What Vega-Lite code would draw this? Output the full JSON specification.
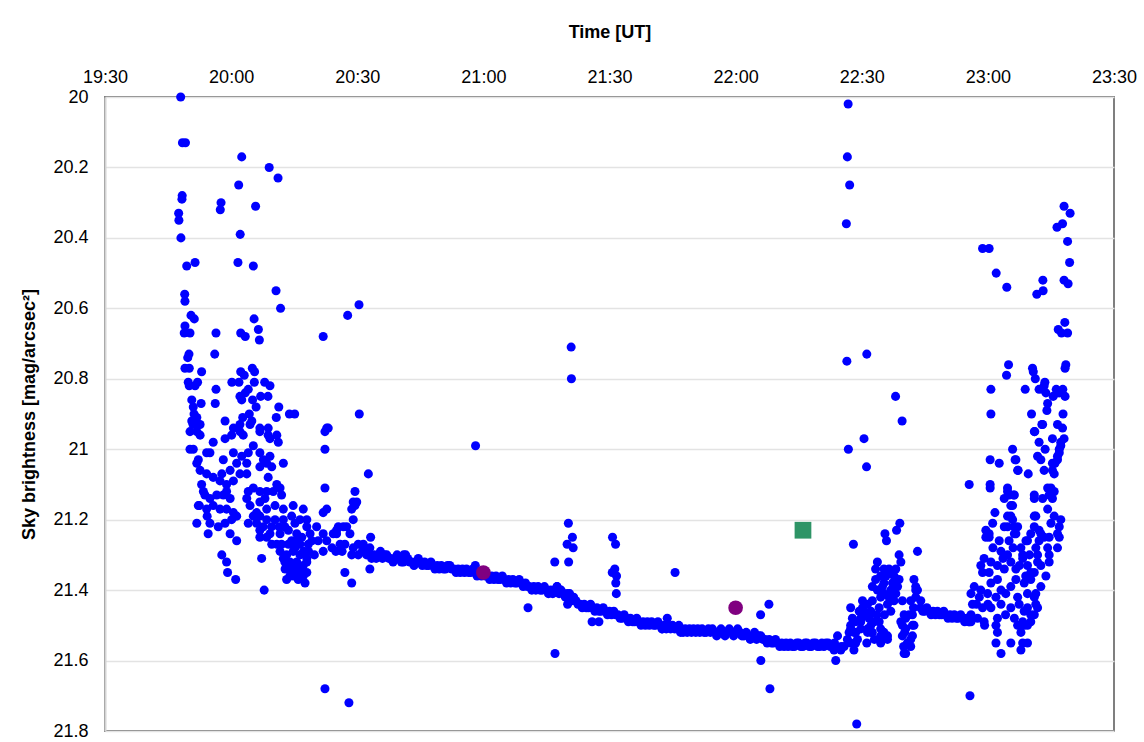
{
"$schema": "https://vega.github.io/schema/vega-lite/v6.json",
"width": 1009, "height": 634,
"autosize": {"type": "none"},
"padding": {"left": 105, "top": 97, "right": 30, "bottom": 11},
"background": "white",
"config": {"font": "Liberation Sans", "view": {"stroke": "#7f7f7f", "strokeWidth": 2}},
"datasets": {
"sky": [
{"ut":19.800,"mag":20.00},{"ut":19.807,"mag":20.13},{"ut":19.819,"mag":20.13},{"ut":20.042,"mag":20.17},{"ut":20.151,"mag":20.20},{"ut":20.186,"mag":20.23},{"ut":20.030,"mag":20.25},{"ut":19.806,"mag":20.28},{"ut":19.805,"mag":20.29},{"ut":19.960,"mag":20.30},{"ut":19.957,"mag":20.32},{"ut":20.097,"mag":20.31},{"ut":19.792,"mag":20.33},{"ut":19.793,"mag":20.35},{"ut":20.036,"mag":20.39},{"ut":19.801,"mag":20.40},{"ut":19.857,"mag":20.47},{"ut":19.824,"mag":20.48},{"ut":20.027,"mag":20.47},{"ut":20.088,"mag":20.48},{"ut":20.178,"mag":20.55},{"ut":19.816,"mag":20.56},{"ut":19.817,"mag":20.58},{"ut":20.196,"mag":20.60},{"ut":20.507,"mag":20.59},{"ut":20.462,"mag":20.62},{"ut":20.365,"mag":20.68},{"ut":19.841,"mag":20.62},{"ut":19.854,"mag":20.63},{"ut":20.091,"mag":20.63},{"ut":20.108,"mag":20.66},{"ut":20.112,"mag":20.69},{"ut":19.817,"mag":20.65},{"ut":19.814,"mag":20.67},{"ut":19.837,"mag":20.67},{"ut":19.940,"mag":20.67},{"ut":20.038,"mag":20.67},{"ut":20.056,"mag":20.68},{"ut":19.833,"mag":20.73},{"ut":19.828,"mag":20.74},{"ut":19.935,"mag":20.73},{"ut":19.817,"mag":20.77},{"ut":19.834,"mag":20.77},{"ut":19.883,"mag":20.78},{"ut":20.038,"mag":20.78},{"ut":20.052,"mag":20.79},{"ut":20.084,"mag":20.77},{"ut":20.093,"mag":20.78},
{"ut":19.830,"mag":20.81},{"ut":19.834,"mag":20.82},{"ut":19.867,"mag":20.81},{"ut":19.857,"mag":20.82},{"ut":19.940,"mag":20.83},{"ut":20.003,"mag":20.81},{"ut":20.031,"mag":20.81},{"ut":20.092,"mag":20.81},{"ut":20.068,"mag":20.83},{"ut":20.056,"mag":20.84},{"ut":20.133,"mag":20.81},{"ut":20.154,"mag":20.82},{"ut":20.035,"mag":20.85},{"ut":20.042,"mag":20.86},{"ut":20.085,"mag":20.86},{"ut":20.099,"mag":20.88},{"ut":20.117,"mag":20.85},{"ut":20.146,"mag":20.85},{"ut":19.844,"mag":20.86},{"ut":19.881,"mag":20.87},{"ut":19.850,"mag":20.88},{"ut":19.937,"mag":20.87},{"ut":20.189,"mag":20.88},{"ut":20.179,"mag":20.91},{"ut":20.231,"mag":20.90},{"ut":20.252,"mag":20.90},{"ut":19.853,"mag":20.90},{"ut":19.864,"mag":20.91},{"ut":19.849,"mag":20.93},{"ut":19.877,"mag":20.93},{"ut":19.976,"mag":20.92},{"ut":20.046,"mag":20.91},{"ut":20.072,"mag":20.90},{"ut":20.082,"mag":20.92},{"ut":20.035,"mag":20.93},{"ut":20.009,"mag":20.94},{"ut":20.385,"mag":20.94},{"ut":20.114,"mag":20.94},{"ut":20.147,"mag":20.94},
{"ut":19.844,"mag":20.92},{"ut":19.870,"mag":20.93},{"ut":19.864,"mag":20.95},{"ut":19.837,"mag":20.95},{"ut":19.877,"mag":20.96},{"ut":20.075,"mag":20.93},{"ut":20.035,"mag":20.95},{"ut":20.002,"mag":20.96},{"ut":19.976,"mag":20.97},{"ut":20.048,"mag":20.96},{"ut":20.114,"mag":20.95},{"ut":20.147,"mag":20.96},{"ut":20.187,"mag":20.98},{"ut":20.154,"mag":20.97},{"ut":20.181,"mag":20.96},{"ut":20.379,"mag":20.94},{"ut":20.372,"mag":20.95},{"ut":20.372,"mag":21.00},{"ut":19.837,"mag":21.00},{"ut":19.850,"mag":21.00},{"ut":19.929,"mag":20.98},{"ut":19.916,"mag":21.01},{"ut":19.903,"mag":21.01},{"ut":19.870,"mag":21.03},{"ut":19.864,"mag":21.04},{"ut":19.877,"mag":21.06},{"ut":19.969,"mag":21.03},{"ut":20.009,"mag":21.01},{"ut":20.042,"mag":21.02},{"ut":20.068,"mag":21.01},{"ut":20.062,"mag":21.04},{"ut":20.022,"mag":21.04},{"ut":19.996,"mag":21.06},{"ut":19.963,"mag":21.07},{"ut":20.088,"mag":20.99},{"ut":20.114,"mag":21.01},{"ut":20.128,"mag":21.03},{"ut":20.154,"mag":21.02},{"ut":20.141,"mag":21.04},{"ut":20.114,"mag":21.05},{"ut":20.161,"mag":21.05},{"ut":20.207,"mag":21.04},{"ut":19.903,"mag":21.07},{"ut":19.929,"mag":21.08},{"ut":19.956,"mag":21.09},{"ut":19.982,"mag":21.10},{"ut":20.009,"mag":21.09},{"ut":20.035,"mag":21.07},{"ut":20.062,"mag":21.07},{"ut":19.883,"mag":21.10},{"ut":19.890,"mag":21.12},{"ut":19.896,"mag":21.13},{"ut":19.916,"mag":21.14},{"ut":19.943,"mag":21.13},{"ut":19.969,"mag":21.13},{"ut":19.982,"mag":21.12},{"ut":19.996,"mag":21.14},{"ut":20.147,"mag":21.08},{"ut":20.181,"mag":21.10},{"ut":20.194,"mag":21.11},{"ut":20.167,"mag":21.12},{"ut":20.141,"mag":21.12},{"ut":20.114,"mag":21.12},{"ut":20.088,"mag":21.11},{"ut":20.068,"mag":21.12},{"ut":20.062,"mag":21.14},{"ut":20.075,"mag":21.16},{"ut":20.114,"mag":21.15},{"ut":20.134,"mag":21.14},{"ut":20.200,"mag":21.13},{"ut":19.870,"mag":21.16},{"ut":19.903,"mag":21.17},{"ut":19.929,"mag":21.16},{"ut":19.956,"mag":21.17},{"ut":19.982,"mag":21.17},{"ut":20.009,"mag":21.18},{"ut":20.022,"mag":21.19},{"ut":19.905,"mag":21.19},{"ut":19.916,"mag":21.21},{"ut":19.864,"mag":21.21},{"ut":19.909,"mag":21.24},{"ut":19.949,"mag":21.22},{"ut":19.976,"mag":21.21},{"ut":20.002,"mag":21.20},{"ut":20.068,"mag":21.21},{"ut":19.996,"mag":21.24},{"ut":20.022,"mag":21.26},{"ut":19.963,"mag":21.30},{"ut":19.982,"mag":21.32},{"ut":19.986,"mag":21.35},{"ut":20.018,"mag":21.37},{"ut":20.131,"mag":21.40},{"ut":20.121,"mag":21.31},
{"ut":20.101,"mag":21.18},{"ut":20.114,"mag":21.19},{"ut":20.141,"mag":21.17},{"ut":20.174,"mag":21.16},{"ut":20.207,"mag":21.17},{"ut":20.246,"mag":21.16},{"ut":20.286,"mag":21.17},{"ut":20.300,"mag":21.20},{"ut":20.273,"mag":21.20},{"ut":20.240,"mag":21.19},{"ut":20.207,"mag":21.20},{"ut":20.174,"mag":21.20},{"ut":20.141,"mag":21.20},{"ut":20.101,"mag":21.21},{"ut":20.114,"mag":21.23},{"ut":20.154,"mag":21.24},{"ut":20.194,"mag":21.24},{"ut":20.227,"mag":21.23},{"ut":20.260,"mag":21.24},{"ut":20.300,"mag":21.22},{"ut":20.313,"mag":21.24},{"ut":20.306,"mag":21.27},{"ut":20.273,"mag":21.27},{"ut":20.240,"mag":21.26},{"ut":20.200,"mag":21.27},{"ut":20.161,"mag":21.27},{"ut":20.141,"mag":21.25},{"ut":20.114,"mag":21.25},{"ut":20.194,"mag":21.29},{"ut":20.220,"mag":21.30},{"ut":20.246,"mag":21.29},{"ut":20.273,"mag":21.30},{"ut":20.300,"mag":21.31},{"ut":20.207,"mag":21.31},{"ut":20.233,"mag":21.32},{"ut":20.260,"mag":21.32},{"ut":20.286,"mag":21.33},{"ut":20.214,"mag":21.34},{"ut":20.240,"mag":21.35},{"ut":20.266,"mag":21.35},{"ut":20.220,"mag":21.37},{"ut":20.246,"mag":21.36},{"ut":20.293,"mag":21.38},{"ut":20.286,"mag":21.36},{"ut":20.181,"mag":21.27},{"ut":20.260,"mag":21.26},{"ut":20.300,"mag":21.32},
{"ut":20.213,"mag":21.22},{"ut":20.253,"mag":21.21},{"ut":20.280,"mag":21.25},{"ut":20.227,"mag":21.27},{"ut":20.253,"mag":21.28},{"ut":20.287,"mag":21.29},{"ut":20.213,"mag":21.32},{"ut":20.227,"mag":21.34},{"ut":20.253,"mag":21.33},{"ut":20.273,"mag":21.34},{"ut":20.266,"mag":21.37},{"ut":20.233,"mag":21.36},{"ut":20.300,"mag":21.35},{"ut":20.307,"mag":21.29},{"ut":20.320,"mag":21.26},{"ut":20.190,"mag":21.22},{"ut":20.127,"mag":21.22},{"ut":20.160,"mag":21.22},{"ut":20.088,"mag":21.19},{"ut":20.330,"mag":21.30},{"ut":20.345,"mag":21.26},{"ut":20.400,"mag":21.28},{"ut":20.415,"mag":21.29},{"ut":20.440,"mag":21.29},{"ut":20.520,"mag":21.29},{"ut":20.540,"mag":21.29},
{"ut":20.339,"mag":21.22},{"ut":20.365,"mag":21.24},{"ut":20.379,"mag":21.26},{"ut":20.405,"mag":21.24},{"ut":20.418,"mag":21.23},{"ut":20.445,"mag":21.22},{"ut":20.471,"mag":21.24},{"ut":20.451,"mag":21.27},{"ut":20.484,"mag":21.28},{"ut":20.478,"mag":21.30},{"ut":20.365,"mag":21.29},{"ut":20.432,"mag":21.27},{"ut":20.372,"mag":21.11},{"ut":20.379,"mag":21.17},{"ut":20.365,"mag":21.18},{"ut":20.491,"mag":21.12},{"ut":20.484,"mag":21.15},{"ut":20.478,"mag":21.17},{"ut":20.484,"mag":21.20},{"ut":20.451,"mag":21.35},{"ut":20.478,"mag":21.38},{"ut":20.504,"mag":21.27},{"ut":20.504,"mag":21.30},
{"ut":20.508,"mag":20.90},{"ut":20.544,"mag":21.07},{"ut":20.498,"mag":21.15},{"ut":20.491,"mag":21.16},{"ut":20.425,"mag":21.22},{"ut":20.458,"mag":21.22},{"ut":20.418,"mag":21.24},{"ut":20.553,"mag":21.25},{"ut":20.550,"mag":21.28},{"ut":20.524,"mag":21.27},{"ut":20.537,"mag":21.30},{"ut":20.557,"mag":21.31},{"ut":20.550,"mag":21.34},{"ut":20.372,"mag":21.68},{"ut":20.467,"mag":21.72},{"ut":19.874,"mag":21.16},
{"ut":20.567,"mag":21.30},{"ut":20.575,"mag":21.31},{"ut":20.583,"mag":21.30},{"ut":20.592,"mag":21.29},{"ut":20.600,"mag":21.31},{"ut":20.608,"mag":21.30},{"ut":20.617,"mag":21.30},{"ut":20.625,"mag":21.31},{"ut":20.633,"mag":21.31},{"ut":20.642,"mag":21.32},{"ut":20.650,"mag":21.31},{"ut":20.658,"mag":21.30},{"ut":20.667,"mag":21.31},{"ut":20.675,"mag":21.32},{"ut":20.683,"mag":21.32},{"ut":20.692,"mag":21.30},{"ut":20.700,"mag":21.31},{"ut":20.708,"mag":21.32},{"ut":20.717,"mag":21.32},{"ut":20.725,"mag":21.33},{"ut":20.733,"mag":21.32},{"ut":20.742,"mag":21.31},{"ut":20.750,"mag":21.32},{"ut":20.758,"mag":21.33},{"ut":20.767,"mag":21.32},{"ut":20.775,"mag":21.33},{"ut":20.783,"mag":21.33},{"ut":20.792,"mag":21.32},{"ut":20.800,"mag":21.33},{"ut":20.808,"mag":21.34},{"ut":20.817,"mag":21.33},{"ut":20.825,"mag":21.34},{"ut":20.833,"mag":21.33},{"ut":20.842,"mag":21.34},{"ut":20.850,"mag":21.34},{"ut":20.858,"mag":21.33},{"ut":20.867,"mag":21.33},{"ut":20.875,"mag":21.34},{"ut":20.883,"mag":21.34},{"ut":20.892,"mag":21.35},{"ut":20.900,"mag":21.34},{"ut":20.908,"mag":21.35},{"ut":20.917,"mag":21.34},{"ut":20.925,"mag":21.35},{"ut":20.933,"mag":21.34},{"ut":20.942,"mag":21.35},{"ut":20.950,"mag":21.35},{"ut":20.958,"mag":21.34},{"ut":20.967,"mag":21.35},{"ut":20.975,"mag":21.36},{"ut":20.983,"mag":21.35},{"ut":20.992,"mag":21.36},{"ut":21.000,"mag":21.35},{"ut":21.008,"mag":21.36},{"ut":21.017,"mag":21.36},{"ut":21.025,"mag":21.37},{"ut":21.033,"mag":21.36},{"ut":21.042,"mag":21.37},{"ut":21.050,"mag":21.36},{"ut":21.058,"mag":21.37},{"ut":21.067,"mag":21.37},{"ut":21.075,"mag":21.36},{"ut":21.083,"mag":21.37},{"ut":21.092,"mag":21.38},{"ut":21.100,"mag":21.37},{"ut":21.108,"mag":21.38},{"ut":21.117,"mag":21.37},{"ut":21.125,"mag":21.38},{"ut":21.133,"mag":21.38},{"ut":21.142,"mag":21.37},{"ut":21.150,"mag":21.38},{"ut":21.158,"mag":21.39},{"ut":21.167,"mag":21.38},{"ut":21.175,"mag":21.39},{"ut":21.183,"mag":21.39},{"ut":21.192,"mag":21.40},{"ut":21.200,"mag":21.39},{"ut":21.208,"mag":21.40},{"ut":21.217,"mag":21.39},{"ut":21.225,"mag":21.40},{"ut":21.233,"mag":21.40},{"ut":21.242,"mag":21.39},{"ut":21.250,"mag":21.40},{"ut":21.258,"mag":21.41},{"ut":21.267,"mag":21.40},{"ut":21.275,"mag":21.41},{"ut":21.283,"mag":21.40},{"ut":21.292,"mag":21.39},{"ut":21.300,"mag":21.41},{"ut":21.308,"mag":21.40},{"ut":21.317,"mag":21.41},{"ut":21.325,"mag":21.42},{"ut":21.333,"mag":21.42},{"ut":21.342,"mag":21.41},{"ut":21.350,"mag":21.43},{"ut":21.358,"mag":21.42},{"ut":21.367,"mag":21.43},{"ut":21.375,"mag":21.44},{"ut":21.383,"mag":21.44},{"ut":21.392,"mag":21.45},{"ut":21.400,"mag":21.44},{"ut":21.408,"mag":21.45},{"ut":21.417,"mag":21.45},{"ut":21.425,"mag":21.44},{"ut":21.433,"mag":21.45},{"ut":21.442,"mag":21.46},{"ut":21.450,"mag":21.45},{"ut":21.458,"mag":21.46},{"ut":21.467,"mag":21.46},{"ut":21.475,"mag":21.45},{"ut":21.483,"mag":21.46},{"ut":21.492,"mag":21.47},{"ut":21.500,"mag":21.46},{"ut":21.508,"mag":21.47},{"ut":21.517,"mag":21.46},{"ut":21.525,"mag":21.47},{"ut":21.533,"mag":21.47},{"ut":21.542,"mag":21.48},{"ut":21.550,"mag":21.48},{"ut":21.558,"mag":21.47},{"ut":21.567,"mag":21.48},{"ut":21.575,"mag":21.49},{"ut":21.583,"mag":21.48},{"ut":21.592,"mag":21.49},{"ut":21.600,"mag":21.49},{"ut":21.608,"mag":21.48},{"ut":21.617,"mag":21.49},{"ut":21.625,"mag":21.50},{"ut":21.633,"mag":21.49},{"ut":21.642,"mag":21.50},{"ut":21.650,"mag":21.49},{"ut":21.658,"mag":21.50},{"ut":21.667,"mag":21.49},{"ut":21.675,"mag":21.50},{"ut":21.683,"mag":21.50},{"ut":21.692,"mag":21.49},{"ut":21.700,"mag":21.50},{"ut":21.708,"mag":21.51},{"ut":21.717,"mag":21.50},{"ut":21.725,"mag":21.51},{"ut":21.733,"mag":21.50},{"ut":21.742,"mag":21.51},{"ut":21.750,"mag":21.50},{"ut":21.758,"mag":21.51},{"ut":21.767,"mag":21.51},{"ut":21.775,"mag":21.50},{"ut":21.783,"mag":21.51},{"ut":21.792,"mag":21.52},{"ut":21.800,"mag":21.51},{"ut":21.808,"mag":21.52},{"ut":21.817,"mag":21.51},{"ut":21.825,"mag":21.52},{"ut":21.833,"mag":21.51},{"ut":21.842,"mag":21.52},{"ut":21.850,"mag":21.51},{"ut":21.858,"mag":21.52},{"ut":21.867,"mag":21.51},{"ut":21.875,"mag":21.52},{"ut":21.883,"mag":21.52},{"ut":21.892,"mag":21.51},{"ut":21.900,"mag":21.52},{"ut":21.908,"mag":21.51},{"ut":21.917,"mag":21.52},{"ut":21.925,"mag":21.53},{"ut":21.933,"mag":21.52},{"ut":21.942,"mag":21.51},{"ut":21.950,"mag":21.52},{"ut":21.958,"mag":21.53},{"ut":21.967,"mag":21.52},{"ut":21.975,"mag":21.51},{"ut":21.983,"mag":21.52},{"ut":21.992,"mag":21.53},{"ut":22.000,"mag":21.52},{"ut":22.008,"mag":21.51},{"ut":22.017,"mag":21.52},{"ut":22.025,"mag":21.53},{"ut":22.033,"mag":21.53},{"ut":22.042,"mag":21.52},{"ut":22.050,"mag":21.53},{"ut":22.058,"mag":21.54},{"ut":22.067,"mag":21.53},{"ut":22.075,"mag":21.52},{"ut":22.083,"mag":21.54},{"ut":22.092,"mag":21.53},{"ut":22.100,"mag":21.53},{"ut":22.108,"mag":21.54},{"ut":22.117,"mag":21.54},{"ut":22.125,"mag":21.55},{"ut":22.133,"mag":21.54},{"ut":22.142,"mag":21.55},{"ut":22.150,"mag":21.55},{"ut":22.158,"mag":21.54},{"ut":22.167,"mag":21.55},{"ut":22.175,"mag":21.56},{"ut":22.183,"mag":21.55},{"ut":22.192,"mag":21.56},{"ut":22.200,"mag":21.55},{"ut":22.208,"mag":21.56},{"ut":22.217,"mag":21.55},{"ut":22.225,"mag":21.56},{"ut":22.233,"mag":21.56},{"ut":22.242,"mag":21.55},{"ut":22.250,"mag":21.55},{"ut":22.258,"mag":21.56},{"ut":22.267,"mag":21.56},{"ut":22.275,"mag":21.55},{"ut":22.283,"mag":21.55},{"ut":22.292,"mag":21.56},{"ut":22.300,"mag":21.56},{"ut":22.308,"mag":21.55},{"ut":22.317,"mag":21.55},{"ut":22.325,"mag":21.56},{"ut":22.333,"mag":21.56},{"ut":22.342,"mag":21.55},{"ut":22.350,"mag":21.56},{"ut":22.358,"mag":21.55},{"ut":22.367,"mag":21.55},{"ut":22.375,"mag":21.56},{"ut":22.383,"mag":21.56},{"ut":22.392,"mag":21.55},
{"ut":20.684,"mag":21.30},{"ut":20.968,"mag":21.33},{"ut":21.292,"mag":21.39},{"ut":21.334,"mag":21.44},{"ut":21.332,"mag":21.41},{"ut":21.348,"mag":20.71},{"ut":21.349,"mag":20.80},{"ut":20.969,"mag":20.99},{"ut":21.337,"mag":21.21},{"ut":21.353,"mag":21.25},{"ut":21.332,"mag":21.27},{"ut":21.356,"mag":21.28},{"ut":21.283,"mag":21.32},{"ut":21.338,"mag":21.32},{"ut":21.512,"mag":21.25},{"ut":21.524,"mag":21.27},{"ut":21.521,"mag":21.34},{"ut":21.511,"mag":21.35},{"ut":21.528,"mag":21.36},{"ut":21.525,"mag":21.38},{"ut":21.527,"mag":21.41},{"ut":21.760,"mag":21.35},{"ut":21.177,"mag":21.45},{"ut":21.431,"mag":21.49},{"ut":21.458,"mag":21.49},{"ut":21.284,"mag":21.58},{"ut":22.099,"mag":21.47},{"ut":22.132,"mag":21.44},{"ut":22.100,"mag":21.60},{"ut":22.136,"mag":21.68},{"ut":21.729,"mag":21.48},{"ut":21.709,"mag":21.51},{"ut":21.782,"mag":21.52},
{"ut":22.446,"mag":20.02},{"ut":22.443,"mag":20.17},{"ut":22.452,"mag":20.25},{"ut":22.439,"mag":20.36},{"ut":22.979,"mag":20.43},{"ut":23.005,"mag":20.43},{"ut":23.033,"mag":20.50},{"ut":23.075,"mag":20.54},{"ut":23.218,"mag":20.52},{"ut":23.219,"mag":20.55},{"ut":23.194,"mag":20.56},{"ut":23.302,"mag":20.31},{"ut":23.326,"mag":20.33},{"ut":23.274,"mag":20.37},{"ut":23.296,"mag":20.36},{"ut":23.316,"mag":20.41},{"ut":23.324,"mag":20.47},{"ut":23.302,"mag":20.52},{"ut":23.318,"mag":20.53},{"ut":23.305,"mag":20.64},{"ut":23.279,"mag":20.66},{"ut":23.292,"mag":20.67},{"ut":23.316,"mag":20.67},{"ut":22.441,"mag":20.75},{"ut":22.520,"mag":20.73},{"ut":22.634,"mag":20.85},{"ut":23.082,"mag":20.76},{"ut":23.074,"mag":20.79},{"ut":23.177,"mag":20.77},{"ut":23.180,"mag":20.78},{"ut":23.188,"mag":20.80},{"ut":23.309,"mag":20.76},{"ut":23.306,"mag":20.77},{"ut":23.012,"mag":20.83},{"ut":23.148,"mag":20.83},{"ut":23.203,"mag":20.83},{"ut":23.226,"mag":20.81},{"ut":23.217,"mag":20.83},{"ut":23.271,"mag":20.83},{"ut":23.297,"mag":20.83},{"ut":23.274,"mag":20.84},{"ut":23.259,"mag":20.85},{"ut":23.306,"mag":20.85},{"ut":23.237,"mag":20.87},{"ut":23.223,"mag":20.82},{"ut":23.230,"mag":20.84},{"ut":23.283,"mag":20.84},{"ut":23.234,"mag":20.89},{"ut":23.012,"mag":20.90},{"ut":23.173,"mag":20.90},{"ut":23.298,"mag":20.90},{"ut":23.214,"mag":20.93},{"ut":23.186,"mag":20.95},{"ut":23.203,"mag":20.98},{"ut":23.227,"mag":21.00},{"ut":23.256,"mag":20.97},{"ut":23.276,"mag":20.93},{"ut":23.296,"mag":20.94},{"ut":23.302,"mag":20.97},{"ut":23.289,"mag":20.98},{"ut":23.283,"mag":21.00},{"ut":23.276,"mag":21.02},{"ut":23.266,"mag":21.04},{"ut":23.256,"mag":21.06},{"ut":23.263,"mag":21.07},{"ut":23.098,"mag":21.00},{"ut":23.111,"mag":21.03},{"ut":23.118,"mag":21.06},{"ut":23.160,"mag":21.07},{"ut":23.009,"mag":21.03},{"ut":23.045,"mag":21.04},{"ut":23.197,"mag":21.02},{"ut":23.210,"mag":21.03},{"ut":23.223,"mag":21.06},{"ut":22.926,"mag":21.10},{"ut":23.009,"mag":21.10},{"ut":23.009,"mag":21.11},{"ut":23.078,"mag":21.11},{"ut":23.237,"mag":21.11},{"ut":23.250,"mag":21.11},{"ut":22.509,"mag":20.97},{"ut":22.519,"mag":21.05},{"ut":22.447,"mag":21.00},{"ut":22.660,"mag":20.92},{"ut":22.467,"mag":21.27},{"ut":22.592,"mag":21.24},{"ut":22.598,"mag":21.26},{"ut":22.638,"mag":21.23},{"ut":22.651,"mag":21.21},{"ut":22.721,"mag":21.29},{"ut":22.648,"mag":21.30},{"ut":22.655,"mag":21.32},
{"ut":22.562,"mag":21.32},{"ut":22.555,"mag":21.34},{"ut":22.588,"mag":21.34},{"ut":22.608,"mag":21.34},{"ut":22.635,"mag":21.34},{"ut":22.628,"mag":21.36},{"ut":22.575,"mag":21.36},{"ut":22.555,"mag":21.37},{"ut":22.588,"mag":21.38},{"ut":22.622,"mag":21.38},{"ut":22.648,"mag":21.37},{"ut":22.642,"mag":21.39},{"ut":22.615,"mag":21.40},{"ut":22.588,"mag":21.41},{"ut":22.562,"mag":21.40},{"ut":22.542,"mag":21.39},{"ut":22.635,"mag":21.41},{"ut":22.608,"mag":21.42},{"ut":22.575,"mag":21.42},{"ut":22.542,"mag":21.43},{"ut":22.523,"mag":21.44},{"ut":22.503,"mag":21.45},{"ut":22.456,"mag":21.45},{"ut":22.509,"mag":21.46},{"ut":22.536,"mag":21.46},{"ut":22.569,"mag":21.45},{"ut":22.602,"mag":21.44},{"ut":22.529,"mag":21.48},{"ut":22.496,"mag":21.49},{"ut":22.476,"mag":21.49},{"ut":22.456,"mag":21.51},{"ut":22.450,"mag":21.52},{"ut":22.476,"mag":21.52},{"ut":22.496,"mag":21.51},{"ut":22.549,"mag":21.49},{"ut":22.569,"mag":21.49},{"ut":22.575,"mag":21.51},{"ut":22.523,"mag":21.51},{"ut":22.536,"mag":21.52},{"ut":22.588,"mag":21.52},{"ut":22.602,"mag":21.54},{"ut":22.575,"mag":21.55},{"ut":22.483,"mag":21.54},{"ut":22.456,"mag":21.55},{"ut":22.430,"mag":21.56},{"ut":22.404,"mag":21.53},{"ut":22.397,"mag":21.56},{"ut":22.417,"mag":21.57},{"ut":22.390,"mag":21.57},{"ut":22.397,"mag":21.60},{"ut":22.480,"mag":21.78},{"ut":22.929,"mag":21.70},
{"ut":22.582,"mag":21.39},{"ut":22.596,"mag":21.36},{"ut":22.620,"mag":21.35},{"ut":22.628,"mag":21.43},{"ut":22.560,"mag":21.47},{"ut":22.590,"mag":21.47},{"ut":22.615,"mag":21.46},{"ut":22.550,"mag":21.54},{"ut":22.520,"mag":21.55},{"ut":22.490,"mag":21.46},
{"ut":22.463,"mag":21.48},{"ut":22.456,"mag":21.50},{"ut":22.469,"mag":21.52},{"ut":22.443,"mag":21.54},{"ut":22.476,"mag":21.55},{"ut":22.469,"mag":21.57},{"ut":22.419,"mag":21.56},{"ut":22.496,"mag":21.48},{"ut":22.503,"mag":21.47},{"ut":22.529,"mag":21.47},{"ut":22.536,"mag":21.50},{"ut":22.542,"mag":21.52},{"ut":22.575,"mag":21.53},{"ut":22.602,"mag":21.53},{"ut":22.523,"mag":21.52},{"ut":22.503,"mag":21.43},
{"ut":22.707,"mag":21.37},{"ut":22.714,"mag":21.39},{"ut":22.694,"mag":21.43},{"ut":22.705,"mag":21.45},{"ut":22.688,"mag":21.47},{"ut":22.674,"mag":21.48},{"ut":22.661,"mag":21.50},{"ut":22.670,"mag":21.52},{"ut":22.666,"mag":21.56},{"ut":22.674,"mag":21.58},{"ut":22.701,"mag":21.50},{"ut":22.701,"mag":21.53},{"ut":22.694,"mag":21.56},{"ut":22.714,"mag":21.40},{"ut":22.714,"mag":21.42},{"ut":22.661,"mag":21.43},{"ut":22.668,"mag":21.47},{"ut":22.655,"mag":21.49},{"ut":22.674,"mag":21.51},{"ut":22.661,"mag":21.53},{"ut":22.681,"mag":21.55},{"ut":22.668,"mag":21.58},{"ut":22.694,"mag":21.54},{"ut":22.707,"mag":21.50},{"ut":22.701,"mag":21.47},{"ut":22.734,"mag":21.43},{"ut":22.721,"mag":21.40},
{"ut":22.733,"mag":21.45},{"ut":22.742,"mag":21.46},{"ut":22.750,"mag":21.46},{"ut":22.758,"mag":21.45},{"ut":22.767,"mag":21.46},{"ut":22.775,"mag":21.47},{"ut":22.783,"mag":21.46},{"ut":22.792,"mag":21.47},{"ut":22.800,"mag":21.46},{"ut":22.808,"mag":21.47},{"ut":22.817,"mag":21.47},{"ut":22.825,"mag":21.46},{"ut":22.833,"mag":21.47},{"ut":22.842,"mag":21.48},{"ut":22.850,"mag":21.47},{"ut":22.858,"mag":21.48},{"ut":22.867,"mag":21.47},{"ut":22.875,"mag":21.48},{"ut":22.883,"mag":21.48},{"ut":22.892,"mag":21.47},{"ut":22.900,"mag":21.48},{"ut":22.908,"mag":21.49},{"ut":22.917,"mag":21.48},{"ut":22.925,"mag":21.49},{"ut":22.933,"mag":21.49},
{"ut":23.078,"mag":21.12},{"ut":23.102,"mag":21.13},{"ut":23.065,"mag":21.14},{"ut":23.098,"mag":21.16},{"ut":23.184,"mag":21.13},{"ut":23.217,"mag":21.14},{"ut":23.028,"mag":21.18},{"ut":23.019,"mag":21.21},{"ut":22.992,"mag":21.23},{"ut":23.005,"mag":21.25},{"ut":23.045,"mag":21.26},{"ut":23.084,"mag":21.26},{"ut":23.065,"mag":21.22},{"ut":23.098,"mag":21.20},{"ut":23.118,"mag":21.22},{"ut":23.111,"mag":21.24},{"ut":23.184,"mag":21.19},{"ut":23.170,"mag":21.24},{"ut":23.151,"mag":21.26},{"ut":23.203,"mag":21.23},{"ut":23.223,"mag":21.25},{"ut":23.190,"mag":21.28},{"ut":23.131,"mag":21.28},{"ut":22.985,"mag":21.31},{"ut":22.972,"mag":21.33},{"ut":23.012,"mag":21.32},{"ut":23.052,"mag":21.29},{"ut":23.078,"mag":21.30},{"ut":23.038,"mag":21.33},{"ut":23.005,"mag":21.35},{"ut":22.979,"mag":21.35},{"ut":23.065,"mag":21.34},{"ut":23.091,"mag":21.32},{"ut":23.111,"mag":21.34},{"ut":23.138,"mag":21.31},{"ut":23.157,"mag":21.33},{"ut":23.184,"mag":21.35},{"ut":23.197,"mag":21.32},{"ut":23.230,"mag":21.36},{"ut":23.210,"mag":21.39},{"ut":23.170,"mag":21.37},{"ut":23.144,"mag":21.38},{"ut":23.111,"mag":21.37},{"ut":23.091,"mag":21.39},{"ut":23.038,"mag":21.37},{"ut":23.012,"mag":21.38},{"ut":23.052,"mag":21.40},{"ut":22.972,"mag":21.40},{"ut":22.946,"mag":21.39},{"ut":22.933,"mag":21.41},{"ut":22.966,"mag":21.42},{"ut":22.999,"mag":21.41},{"ut":23.032,"mag":21.42},{"ut":23.071,"mag":21.41},{"ut":23.118,"mag":21.42},{"ut":23.157,"mag":21.41},{"ut":23.184,"mag":21.42},{"ut":23.197,"mag":21.45},{"ut":23.157,"mag":21.45},{"ut":23.124,"mag":21.44},{"ut":23.091,"mag":21.45},{"ut":23.052,"mag":21.44},{"ut":23.012,"mag":21.45},{"ut":22.979,"mag":21.45},{"ut":22.939,"mag":21.44},{"ut":22.933,"mag":21.47},{"ut":22.959,"mag":21.48},{"ut":22.926,"mag":21.49},{"ut":22.985,"mag":21.49},{"ut":22.987,"mag":21.50},{"ut":23.038,"mag":21.48},{"ut":23.032,"mag":21.50},{"ut":23.038,"mag":21.52},{"ut":23.032,"mag":21.55},{"ut":23.052,"mag":21.58},{"ut":23.091,"mag":21.55},{"ut":23.131,"mag":21.52},{"ut":23.138,"mag":21.49},{"ut":23.144,"mag":21.46},{"ut":23.157,"mag":21.55},{"ut":23.131,"mag":21.57},{"ut":23.170,"mag":21.49},{"ut":23.184,"mag":21.47},{"ut":23.190,"mag":21.44},{"ut":23.118,"mag":21.50},{"ut":23.157,"mag":21.50},{"ut":23.190,"mag":21.41},{"ut":23.170,"mag":21.47},{"ut":23.144,"mag":21.50},{"ut":23.138,"mag":21.55},
{"ut":23.020,"mag":21.28},{"ut":23.060,"mag":21.31},{"ut":23.100,"mag":21.28},{"ut":23.125,"mag":21.33},{"ut":23.150,"mag":21.36},{"ut":23.165,"mag":21.30},{"ut":23.070,"mag":21.47},{"ut":23.105,"mag":21.48},{"ut":23.000,"mag":21.44},{"ut":22.955,"mag":21.44},
{"ut":23.243,"mag":21.32},{"ut":23.276,"mag":21.28},{"ut":23.283,"mag":21.25},{"ut":23.289,"mag":21.20},{"ut":23.263,"mag":21.19},{"ut":23.256,"mag":21.04},{"ut":23.276,"mag":21.03},{"ut":23.283,"mag":21.01},{"ut":23.289,"mag":20.99},{"ut":23.263,"mag":21.12},{"ut":23.243,"mag":21.13},{"ut":23.256,"mag":21.14},{"ut":23.237,"mag":21.17},{"ut":23.250,"mag":21.21},{"ut":23.283,"mag":21.22},{"ut":23.276,"mag":21.24},{"ut":23.243,"mag":21.25},{"ut":23.237,"mag":21.28},{"ut":23.243,"mag":21.30},{"ut":23.210,"mag":21.24},{"ut":23.203,"mag":21.26},{"ut":23.197,"mag":21.30},{"ut":23.210,"mag":21.33},{"ut":23.170,"mag":21.35},
{"ut":23.005,"mag":21.24},{"ut":22.992,"mag":21.25},{"ut":23.108,"mag":21.03},{"ut":23.120,"mag":21.06},{"ut":23.184,"mag":20.95},{"ut":23.217,"mag":20.93},{"ut":23.084,"mag":21.13},{"ut":23.105,"mag":21.13},{"ut":23.091,"mag":21.16},{"ut":23.078,"mag":21.19},{"ut":23.091,"mag":21.19},{"ut":23.078,"mag":21.22},{"ut":23.105,"mag":21.22},{"ut":23.105,"mag":21.24},{"ut":23.157,"mag":21.26},{"ut":23.138,"mag":21.30},{"ut":23.184,"mag":21.14},{"ut":23.190,"mag":21.19},{"ut":23.184,"mag":21.22}
],
"ref": [{"ut":21.0,"mag":21.35},{"ut":22.0,"mag":21.45}],
"model": [{"ut":22.267,"mag":21.23}]
},
"encoding": {
 "x": {"field":"ut","type":"quantitative",
  "scale":{"domain":[19.5,23.5],"nice":false,"zero":false},
  "axis":{"orient":"top","values":[19.5,20,20.5,21,21.5,22,22.5,23,23.5],
   "labelExpr":"floor(datum.value) + ':' + (datum.value - floor(datum.value) > 0.25 ? '30' : '00')",
   "grid":false,"ticks":false,"tickSize":0,"domain":false,"labelFlush":false,
   "labelFont":"Liberation Sans","labelFontSize":18,"labelColor":"#000000","labelPadding":11,
   "title":"Time [UT]","titleFont":"Liberation Sans","titleFontSize":18,"titleFontWeight":"bold","titleColor":"#000000","titlePadding":27}},
 "y": {"field":"mag","type":"quantitative",
  "scale":{"domain":[20,21.8],"reverse":true,"nice":false,"zero":false},
  "axis":{"values":[20,20.2,20.4,20.6,20.8,21,21.2,21.4,21.6,21.8],"format":".1~f",
   "grid":true,"gridColor":"#e3e3e3","gridWidth":1.5,"ticks":false,"tickSize":0,"labelFlush":false,
   "domain":true,"domainColor":"#d4d4d4","domainWidth":2,
   "labelFont":"Liberation Sans","labelFontSize":18,"labelColor":"#000000","labelPadding":17,
   "title":"Sky brightness [mag/arcsec²]","titleFont":"Liberation Sans","titleFontSize":18,"titleFontWeight":"bold","titleColor":"#000000","titlePadding":14}}
},
"layer": [
 {"data":{"name":"sky"},"mark":{"type":"circle","size":82,"color":"#0000FF","opacity":1,"clip":false}},
 {"data":{"name":"ref"},"mark":{"type":"circle","size":215,"color":"#800080","opacity":1}},
 {"data":{"name":"model"},"mark":{"type":"square","size":280,"color":"#2E9466","opacity":1}}
]
}
